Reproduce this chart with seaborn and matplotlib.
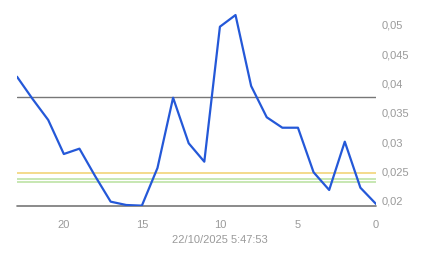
import matplotlib
matplotlib.use("Agg")
import matplotlib.pyplot as plt
import seaborn as sns
import pandas as pd
from matplotlib.ticker import MultipleLocator, FuncFormatter

hours_ago = [23, 22, 21, 20, 19, 18, 17, 16, 15, 14, 13, 12, 11, 10, 9, 8, 7, 6, 5, 4, 3, 2, 1, 0]
values = [0.04114, 0.03734, 0.03377, 0.02797, 0.02888, 0.02423, 0.01985, 0.01928, 0.01917,
          0.02559, 0.03756, 0.02980, 0.02666, 0.04966, 0.05165, 0.03956, 0.03423, 0.03245,
          0.03245, 0.02486, 0.02184, 0.03007, 0.02223, 0.01946]
ref_dark = 0.03763
ref_yellow = 0.02474
ref_green = [0.02366, 0.02315]
yticks = [0.02, 0.025, 0.03, 0.035, 0.04, 0.045, 0.05]
xticks = [0, 5, 10, 15, 20]
timestamp = "22/10/2025 5:47:53"

sns.set_style("white")
plt.rcParams['font.family'] = ['Liberation Sans', 'DejaVu Sans']

W, H = 443, 258
fig = plt.figure(figsize=(W / 100, H / 100), dpi=100)
ax = fig.add_axes([17 / W, (H - 206) / H, (376 - 17) / W, (206 - 5) / H])

df = pd.DataFrame({"h": hours_ago, "v": values})

ax.axhline(ref_yellow, color="#f2d479", lw=1.2, zorder=1)
for g in ref_green:
    ax.axhline(g, color="#bde3a6", lw=1.2, zorder=1)
ax.axhline(ref_dark, color="#777777", lw=1.0, zorder=1)

sns.lineplot(data=df, x="h", y="v", ax=ax, color="#2458d8", lw=1.6, zorder=3)

ax.set_xlim(23, 0)
ax.set_ylim(0.01911, 0.05336)
ax.axhline(0.01911, color="#777777", lw=1.2, zorder=2, clip_on=False)

ax.set_xticks(xticks)
ax.xaxis.set_minor_locator(MultipleLocator(1.25))
ax.set_yticks(yticks)
ax.yaxis.set_major_formatter(FuncFormatter(lambda v, p: f"{v:g}".replace(".", ",")))
ax.yaxis.tick_right()

for s in ["top", "left", "right"]:
    ax.spines[s].set_visible(False)
ax.spines["bottom"].set_position(("outward", 5))
ax.spines["bottom"].set_color("none")

ax.tick_params(axis="x", which="major", length=3.8, width=0.8, color="#aaaaaa",
               labelsize=8, labelcolor="#9a9a9a", pad=1.5, direction="out")
ax.tick_params(axis="x", which="minor", length=1.8, width=0.8, color="#aaaaaa", direction="out")
ax.tick_params(axis="y", which="both", length=0, labelsize=8, labelcolor="#9a9a9a", pad=4)

ax.set_xlabel("")
ax.set_ylabel("")
ax.grid(False)

fig.text(219.5 / W, 1 - 240 / H, timestamp, ha="center", va="center", fontsize=8, color="#9a9a9a")

fig.savefig("out.png", dpi=100, facecolor="white")
